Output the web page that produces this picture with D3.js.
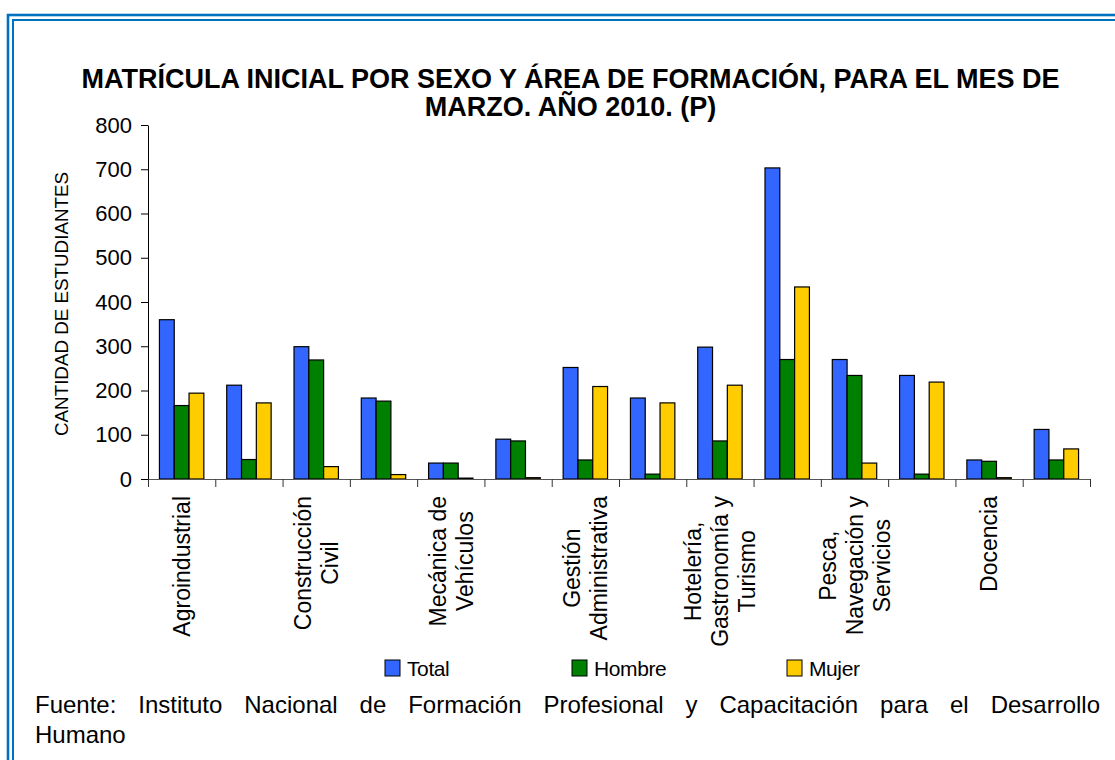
<!DOCTYPE html>
<html>
<head>
<meta charset="utf-8">
<script src="https://cdn.jsdelivr.net/npm/d3@7"></script>
<style>
    body { margin: 0; background: #fff; }
    svg { display: block; font-family: "Liberation Sans", Arial, sans-serif; }
</style>
</head>
<body>
<svg id="chart" width="1115" height="760"></svg>
<script>
// only every other area has its name printed under the axis in the original
const categories = ["Agroindustrial", "", "Construcción\nCivil", "", "Mecánica de\nVehículos", "",
    "Gestión\nAdministrativa", "", "Hotelería,\nGastronomía y\nTurismo", "",
    "Pesca,\nNavegación y\nServicios", "", "Docencia", ""];
const seriesNames = ["Total", "Hombre", "Mujer"];
const seriesColors = ["#3366FF", "#008000", "#FFCC00"];
const total  = [360, 212, 299, 183, 36, 90, 252, 183, 298, 703, 270, 234, 43, 112];
const hombre = [166, 44, 269, 176, 36, 86, 43, 11, 86, 270, 234, 11, 40, 43];
const mujer  = [194, 172, 28, 10, 2, 3, 209, 172, 212, 434, 36, 219, 3, 68];
const yTicks = [0, 100, 200, 300, 400, 500, 600, 700, 800];

const titleLines = ["MATRÍCULA INICIAL POR SEXO Y ÁREA DE FORMACIÓN, PARA EL MES DE", "MARZO. AÑO 2010. (P)"];
const yTitle = "CANTIDAD DE ESTUDIANTES";
const sourceLines = ["Fuente: Instituto Nacional de Formación Profesional y Capacitación para el Desarrollo", "Humano"];

const series = [total, hombre, mujer];

const plot = { left: 148, right: 1090, top: 125, bottom: 479 };

const svg = d3.select("#chart");

// double blue frame (runs off the right and bottom of the picture)
svg.append("rect")
    .attr("x", 8).attr("y", 15)
    .attr("width", 1200).attr("height", 800)
    .attr("fill", "none").attr("stroke", "#0070C0").attr("stroke-width", 2.6);
svg.append("rect")
    .attr("x", 13).attr("y", 20)
    .attr("width", 1200).attr("height", 800)
    .attr("fill", "none").attr("stroke", "#0070C0").attr("stroke-width", 2);

// title, one text element with a tspan per line
var title = svg.append("text")
    .attr("text-anchor", "middle")
    .attr("font-size", 27)
    .attr("font-weight", "bold");
title.selectAll("tspan")
    .data(titleLines)
    .enter().append("tspan")
    .attr("x", 570.5)
    .attr("y", (d, i) => 88 + i * 28)
    .text(d => d);

var idx = d3.range(categories.length);

var x = d3.scaleBand()
    .domain(idx)
    .range([plot.left, plot.right])
    .paddingInner(0.34)
    .paddingOuter(0.17);

var xSub = d3.scaleBand()
    .domain(d3.range(series.length))
    .range([0, x.bandwidth()]);

var y = d3.scaleLinear()
    .domain([0, 800])
    .range([plot.bottom, plot.top]);

// category boundaries for the x ticks
var xEdge = d3.scaleLinear()
    .domain([0, categories.length])
    .range([plot.left, plot.right]);

// bars
var groups = svg.append("g")
    .selectAll("g")
    .data(idx)
    .enter().append("g")
    .attr("transform", d => "translate(" + x(d) + ",0)");

groups.selectAll("rect")
    .data(i => series.map((s, k) => ({ k: k, v: s[i] })))
    .enter().append("rect")
    .attr("x", d => xSub(d.k))
    .attr("y", d => y(d.v))
    .attr("width", xSub.bandwidth())
    .attr("height", d => y(0) - y(d.v))
    .attr("fill", d => seriesColors[d.k])
    .attr("stroke", "#000")
    .attr("stroke-width", 1.2);

// axes
var yAxis = d3.axisLeft(y)
    .tickValues(yTicks)
    .tickSize(7)
    .tickSizeOuter(0)
    .tickPadding(9);

var gy = svg.append("g")
    .attr("transform", "translate(" + plot.left + ",0)")
    .call(yAxis);
gy.selectAll("text").attr("font-size", 22).attr("fill", "#000").attr("font-family", null);
gy.selectAll("line, path").attr("stroke", "#000");

var xAxis = d3.axisBottom(xEdge)
    .tickValues(d3.range(categories.length + 1))
    .tickFormat("")
    .tickSize(8)
    .tickSizeOuter(0);

var gx = svg.append("g")
    .attr("transform", "translate(0," + plot.bottom + ")")
    .call(xAxis);
gx.select("path").attr("stroke", "#555");
gx.selectAll("line").attr("stroke", "#333");

// rotated category names, lines centred on each other, block hung from the axis
var labelTop = 496, labelSize = 23, lineGap = 27;
idx.forEach(function (i) {
    if (!categories[i]) return;
    var lines = categories[i].split("\n");
    var cx = x(i) + x.bandwidth() / 2;
    var t = svg.append("text")
        .attr("font-size", labelSize)
        .attr("text-anchor", "middle");
    var spans = lines.map(function (l, k) {
        return t.append("tspan")
            .attr("x", 0)
            .attr("y", labelSize * 0.36 + (k - (lines.length - 1) / 2) * lineGap)
            .text(l);
    });
    var maxW = d3.max(spans, s => s.node().getComputedTextLength());
    spans.forEach(s => s.attr("x", -maxW / 2));
    t.attr("transform", "translate(" + cx + "," + labelTop + ") rotate(-90)");
});

// y axis title
svg.append("text")
    .attr("transform", "translate(68,304) rotate(-90)")
    .attr("text-anchor", "middle")
    .attr("font-size", 18.8)
    .text(yTitle);

// legend
var legendX = [385, 572, 787];
var legend = svg.append("g").selectAll("g")
    .data(seriesNames)
    .enter().append("g")
    .attr("transform", (d, i) => "translate(" + legendX[i] + ",660)");
legend.append("rect")
    .attr("width", 15).attr("height", 16)
    .attr("fill", (d, i) => seriesColors[i])
    .attr("stroke", "#000").attr("stroke-width", 1);
legend.append("text")
    .attr("x", 22).attr("y", 16)
    .attr("font-size", 21)
    .attr("letter-spacing", -0.4)
    .text(d => d);

// source note, first line justified between the margins
var srcLeft = 35, srcRight = 1100, srcSize = 24;
sourceLines.forEach(function (line, li) {
    var by = 713 + li * 30;
    if (li === sourceLines.length - 1) {
        svg.append("text").attr("x", srcLeft).attr("y", by)
            .attr("font-size", srcSize).text(line);
        return;
    }
    var words = line.split(" ");
    var nodes = words.map(w => svg.append("text").attr("y", by).attr("font-size", srcSize).text(w));
    var widths = nodes.map(n => n.node().getComputedTextLength());
    var gap = (srcRight - srcLeft - d3.sum(widths)) / (words.length - 1);
    var cur = srcLeft;
    nodes.forEach(function (n, k) {
        n.attr("x", cur);
        cur += widths[k] + gap;
    });
});
</script>
</body>
</html>
